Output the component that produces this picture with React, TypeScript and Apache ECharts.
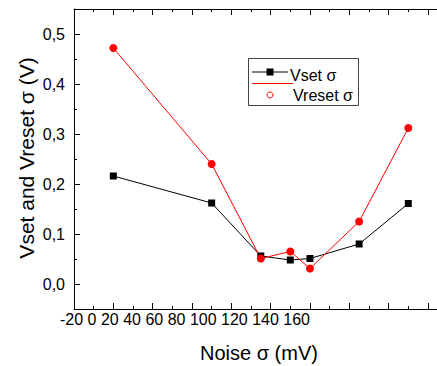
import React, { useEffect, useRef } from "react";
import * as echarts from "echarts";

const noiseX = [0, 50, 75, 90, 100, 125, 150];
const vsetSigma = [0.216, 0.162, 0.056, 0.048, 0.051, 0.08, 0.161];
const vresetSigma = [0.472, 0.24, 0.051, 0.065, 0.031, 0.125, 0.312];
const yMajorTicks = [0, 0.1, 0.2, 0.3, 0.4, 0.5];
const yMinorTicks = [0.05, 0.15, 0.25, 0.35, 0.45];
const xTickLabelText = "-20 0 20 40 60 80 100 120 140 160";
const xTitle = "Noise σ (mV)";
const yTitle = "Vset and Vreset σ (V)";
const seriesNames = ["Vset σ", "Vreset σ"];

const FONT = '"Liberation Sans", Arial, sans-serif';
const INNER_W = 470;

export default function App() {
  const ref = useRef<HTMLDivElement>(null);
  useEffect(() => {
    document.body.style.margin = "0";
    const chart = echarts.init(ref.current!, null, { renderer: "svg" });
    const axisColor = "#000";
    const xBase = {
      type: "value" as const,
      min: -20,
      max: 180,
      interval: 20,
      axisLine: { show: true, onZero: false, lineStyle: { color: axisColor, width: 1 } },
      axisTick: { show: true, inside: true, length: 6, lineStyle: { color: axisColor } },
      minorTick: { show: true, splitNumber: 2, length: 3, lineStyle: { color: axisColor } },
      axisLabel: { show: false },
      splitLine: { show: false },
      minorSplitLine: { show: false },
    };
    chart.setOption({
      animation: false,
      backgroundColor: "#fff",
      grid: { left: 74, top: 9, right: INNER_W - 467.3, bottom: 57, containLabel: false },
      xAxis: [
        { ...xBase, position: "bottom" },
        { ...xBase, position: "top" },
      ],
      yAxis: [
        {
          type: "value",
          min: -0.05,
          max: 0.55,
          position: "left",
          axisLine: { show: true, onZero: false, lineStyle: { color: axisColor, width: 1 } },
          axisTick: {
            show: true,
            inside: true,
            length: 6,
            customValues: yMajorTicks,
            lineStyle: { color: axisColor },
          },
          axisLabel: {
            show: true,
            customValues: yMajorTicks,
            margin: 9,
            fontSize: 16,
            fontFamily: FONT,
            color: "#000",
            formatter: (v: number) => v.toFixed(1).replace(".", ","),
          },
          splitLine: { show: false },
        },
        {
          type: "value",
          min: -0.05,
          max: 0.55,
          position: "left",
          axisLine: { show: false, onZero: false },
          axisTick: {
            show: true,
            inside: true,
            length: 3,
            customValues: yMinorTicks,
            lineStyle: { color: axisColor },
          },
          axisLabel: { show: false },
          splitLine: { show: false },
        },
      ],
      series: [
        {
          name: seriesNames[0],
          type: "line",
          data: noiseX.map((x, i) => [x, vsetSigma[i]]),
          symbol: "rect",
          symbolSize: 7,
          itemStyle: { color: "#000" },
          lineStyle: { color: "#000", width: 1 },
        },
        {
          name: seriesNames[1],
          type: "line",
          data: noiseX.map((x, i) => [x, vresetSigma[i]]),
          symbol: "circle",
          symbolSize: 8,
          itemStyle: { color: "#ff0000" },
          lineStyle: { color: "#ff0000", width: 1 },
        },
      ],
      graphic: [
        {
          type: "text",
          style: { text: xTickLabelText, x: 60, y: 319, font: `16px ${FONT}`, fill: "#000", verticalAlign: "middle" },
        },
        {
          type: "text",
          style: { text: xTitle, x: 259, y: 353, font: `20px ${FONT}`, fill: "#000", align: "center", verticalAlign: "middle" },
        },
        {
          type: "text",
          x: 26,
          y: 158,
          rotation: Math.PI / 2,
          style: { text: yTitle, x: 0, y: 0, font: `21px ${FONT}`, fill: "#000", align: "center", verticalAlign: "middle" },
        },
        {
          type: "rect",
          shape: { x: 248.5, y: 58.5, width: 110, height: 47 },
          style: { fill: "#fff", stroke: "#444", lineWidth: 1 },
          z: 10,
        },
        {
          type: "text",
          style: { text: seriesNames[0], x: 290, y: 75, font: `16px ${FONT}`, fill: "#000", verticalAlign: "middle" },
          z: 11,
        },
        {
          type: "line",
          shape: { x1: 252, y1: 72, x2: 288, y2: 72 },
          style: { stroke: "#000", lineWidth: 1 },
          z: 12,
        },
        {
          type: "rect",
          shape: { x: 266.5, y: 68.5, width: 7, height: 7 },
          style: { fill: "#000" },
          z: 12,
        },
        {
          type: "line",
          shape: { x1: 252, y1: 83.5, x2: 293, y2: 83.5 },
          style: { stroke: "#ff0000", lineWidth: 1 },
          z: 12,
        },
        {
          type: "circle",
          shape: { cx: 270, cy: 95, r: 3 },
          style: { fill: "#fff", stroke: "#ff0000", lineWidth: 1 },
          z: 12,
        },
        {
          type: "text",
          style: { text: seriesNames[1], x: 293, y: 95, font: `16px ${FONT}`, fill: "#000", verticalAlign: "middle" },
          z: 11,
        },
      ],
    });
    return () => chart.dispose();
  }, []);
  return (
    <div style={{ width: 437, height: 366, position: "absolute", left: 0, top: 0, overflow: "hidden" }}>
      <div ref={ref} style={{ width: INNER_W, height: 366 }} />
    </div>
  );
}
